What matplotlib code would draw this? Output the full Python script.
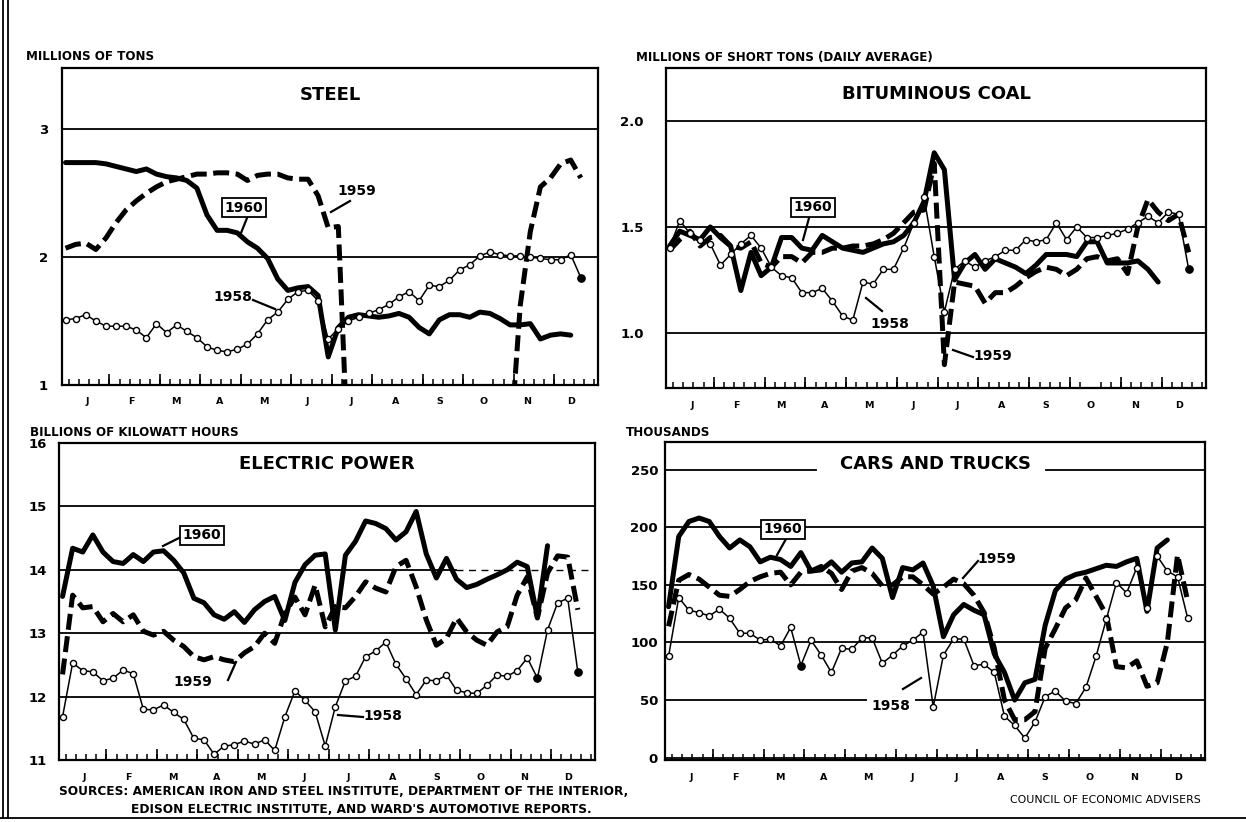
import matplotlib
matplotlib.use("Agg")
import matplotlib.pyplot as plt
from matplotlib.lines import Line2D
import numpy as np

W, H = 1246, 822

months = ["J", "F", "M", "A", "M", "J", "J", "A", "S", "O", "N", "D"]

# weekly values (week 0 = first week of January)
steel_1958 = [1.51, 1.52, 1.55, 1.50, 1.46, 1.46, 1.46, 1.43, 1.37, 1.48, 1.41, 1.47, 1.42,
              1.37, 1.30, 1.27, 1.26, 1.28, 1.32, 1.40, 1.51, 1.57, 1.67, 1.73, 1.74, 1.66,
              1.36, 1.44, 1.50, 1.53, 1.56, 1.59, 1.63, 1.69, 1.73, 1.66, 1.78, 1.77, 1.82,
              1.90, 1.94, 2.01, 2.04, 2.02, 2.01, 2.01, 2.00, 1.99, 1.98, 1.98, 2.02, 1.84]
steel_1959 = [2.07, 2.10, 2.11, 2.06, 2.15, 2.27, 2.37, 2.44, 2.50, 2.55, 2.59, 2.61, 2.63,
              2.65, 2.65, 2.66, 2.66, 2.65, 2.60, 2.64, 2.65, 2.65, 2.62, 2.61, 2.61, 2.48,
              2.23, 2.24, 0.35, 0.35, 0.35, 0.35, 0.35, 0.35, 0.35, 0.35, 0.35, 0.35, 0.35,
              0.35, 0.35, 0.35, 0.35, 0.35, 0.50, 1.62, 2.20, 2.55, 2.62, 2.73, 2.76, 2.62]
steel_1960 = [2.74, 2.74, 2.74, 2.74, 2.73, 2.71, 2.69, 2.67, 2.69, 2.65, 2.63, 2.62, 2.60,
              2.54, 2.33, 2.21, 2.21, 2.19, 2.12, 2.07, 1.99, 1.83, 1.74, 1.76, 1.77, 1.70,
              1.22, 1.45, 1.53, 1.55, 1.54, 1.53, 1.54, 1.56, 1.53, 1.45, 1.40, 1.51, 1.55,
              1.55, 1.53, 1.57, 1.56, 1.52, 1.47, 1.47, 1.48, 1.36, 1.39, 1.40, 1.39]

coal_1958 = [1.40, 1.53, 1.47, 1.44, 1.42, 1.32, 1.37, 1.42, 1.46, 1.40, 1.31, 1.27, 1.26,
             1.19, 1.19, 1.21, 1.15, 1.08, 1.06, 1.24, 1.23, 1.30, 1.30, 1.40, 1.52, 1.64,
             1.36, 1.10, 1.30, 1.34, 1.31, 1.34, 1.36, 1.39, 1.39, 1.44, 1.43, 1.44, 1.52,
             1.44, 1.50, 1.45, 1.45, 1.46, 1.47, 1.49, 1.52, 1.55, 1.52, 1.57, 1.56, 1.30]
coal_1959 = [1.39, 1.44, 1.48, 1.41, 1.45, 1.46, 1.41, 1.40, 1.43, 1.33, 1.31, 1.36, 1.36,
             1.33, 1.38, 1.38, 1.40, 1.40, 1.41, 1.41, 1.42, 1.44, 1.47, 1.52, 1.57, 1.58,
             1.80, 0.85, 1.24, 1.23, 1.22, 1.14, 1.19, 1.19, 1.22, 1.26, 1.29, 1.31, 1.30,
             1.27, 1.30, 1.35, 1.36, 1.34, 1.35, 1.28, 1.50, 1.63, 1.57, 1.53, 1.56, 1.38]
coal_1960 = [1.41, 1.48, 1.46, 1.44, 1.50, 1.45, 1.41, 1.20, 1.38, 1.27, 1.31, 1.45, 1.45,
             1.40, 1.39, 1.46, 1.43, 1.40, 1.39, 1.38, 1.40, 1.42, 1.43, 1.46, 1.52, 1.62,
             1.85, 1.77, 1.25, 1.33, 1.37, 1.30, 1.35, 1.33, 1.31, 1.28, 1.32, 1.37, 1.37,
             1.37, 1.36, 1.43, 1.43, 1.33, 1.33, 1.33, 1.34, 1.30, 1.24]

power_1958 = [11.68, 12.53, 12.41, 12.39, 12.25, 12.29, 12.42, 12.36, 11.80, 11.79, 11.87,
              11.75, 11.64, 11.34, 11.32, 11.09, 11.22, 11.24, 11.30, 11.25, 11.32, 11.15,
              11.68, 12.09, 11.94, 11.76, 11.22, 11.84, 12.25, 12.32, 12.63, 12.72, 12.86,
              12.51, 12.28, 12.03, 12.26, 12.25, 12.34, 12.10, 12.06, 12.05, 12.18, 12.34,
              12.32, 12.41, 12.61, 12.29, 13.05, 13.48, 13.55, 12.39]
power_1959 = [12.35, 13.60, 13.40, 13.42, 13.18, 13.31, 13.18, 13.29, 13.03, 12.97, 13.03,
              12.89, 12.79, 12.63, 12.58, 12.63, 12.58, 12.55, 12.69, 12.79, 13.00, 12.84,
              13.31, 13.57, 13.29, 13.76, 13.10, 13.42, 13.40, 13.58, 13.81, 13.71, 13.65,
              14.05, 14.15, 13.73, 13.21, 12.81, 12.92, 13.24, 13.02, 12.89, 12.81, 13.02,
              13.10, 13.60, 13.89, 13.24, 13.95, 14.22, 14.20, 13.37]
power_1960 = [13.58, 14.34, 14.28, 14.55, 14.28, 14.13, 14.10, 14.24, 14.13, 14.28, 14.30,
              14.15, 13.95, 13.55, 13.48, 13.29, 13.22, 13.34, 13.17, 13.37, 13.50, 13.58,
              13.20, 13.80, 14.08, 14.23, 14.25, 13.05, 14.23, 14.45, 14.77, 14.73, 14.65,
              14.47, 14.60, 14.92, 14.25, 13.87, 14.18, 13.85, 13.72, 13.77, 13.85, 13.92,
              14.00, 14.12, 14.05, 13.25, 14.38]

cars_1958 = [88, 139, 128, 126, 123, 129, 121, 108, 108, 102, 103, 97, 113, 80, 102, 89, 74,
             95, 94, 104, 104, 82, 89, 97, 102, 109, 44, 89, 103, 103, 80, 81, 74, 36, 28, 17,
             31, 53, 58, 49, 47, 61, 88, 120, 152, 143, 165, 130, 175, 162, 157, 121]
cars_1959 = [114, 154, 159, 155, 148, 141, 140, 146, 153, 157, 160, 161, 150, 161, 162, 166,
             160, 146, 162, 165, 160, 149, 150, 157, 157, 150, 142, 148, 155, 151, 141, 126,
             95, 50, 33, 33, 40, 95, 112, 130, 137, 156, 140, 124, 79, 78, 84, 62, 65, 100,
             176, 136]
cars_1960 = [131, 192, 205, 208, 205, 192, 182, 189, 183, 170, 174, 172, 166, 178, 162, 163,
             170, 161, 169, 170, 182, 173, 139, 165, 163, 169, 149, 105, 124, 133, 128, 124,
             90, 74, 50, 65, 68, 115, 145, 155, 159, 161, 164, 167, 166, 170, 173, 127, 182,
             189]

steel_ticks = [1, 2, 3]
coal_ticks = [1.0, 1.5, 2.0]
power_ticks = [11, 12, 13, 14, 15, 16]
cars_ticks = [0, 50, 100, 150, 200, 250]

FONT = "DejaVu Sans"
plt.rcParams["font.family"] = FONT

fig = plt.figure(figsize=(W / 100, H / 100), dpi=100)
fig.patch.set_facecolor("white")


def rect(left, top, right, bottom):
    return [left / W, 1 - bottom / H, (right - left) / W, (bottom - top) / H]


def fx(x):
    return x / W


def fy(y):
    return 1 - y / H


def panel(box, y58, y59, y60, ylim, ticks, fmt, title, title_y, label_pad,
          filled=(), skip_grid=()):
    ax = fig.add_axes(rect(*box))
    ax.set_xlim(-0.35, 52.7)
    ax.set_ylim(*ylim)
    for s in ax.spines.values():
        s.set_linewidth(1.6)
    for t in ticks:
        if t <= ylim[0] or t >= ylim[1] or t in skip_grid:
            continue
        ax.axhline(t, color="black", lw=1.3, zorder=1)

    ax.plot(np.arange(len(y59)), y59, color="black", lw=3.6,
            linestyle=(0, (3.2, 1.3)), zorder=3)
    ax.plot(np.arange(len(y60)), y60, color="black", lw=3.6,
            solid_joinstyle="round", solid_capstyle="round", zorder=4)
    ax.plot(np.arange(len(y58)), y58, color="black", lw=1.1, marker="o", ms=4.4,
            mfc="white", mec="black", mew=1.0, zorder=5)
    for i in filled:
        ax.plot([i], [y58[i]], "o", color="black", ms=5.2, zorder=6)

    ax.set_yticks(ticks)
    ax.set_yticklabels([fmt.format(t) for t in ticks], fontsize=9.5, fontweight="bold")
    ax.tick_params(axis="y", length=0, pad=label_pad)

    centers = [4.35 * m + 2.2 for m in range(12)]
    ax.set_xticks(centers)
    ax.set_xticklabels(months, fontsize=6.8, fontweight="bold")
    ax.tick_params(axis="x", which="major", length=0, pad=9)
    wk = np.arange(53) + 0.35
    ax.set_xticks(wk, minor=True)
    ax.tick_params(axis="x", which="minor", direction="in", length=4.5, width=1.1)
    long_ticks = [round(4.35 * m) + 0.35 for m in range(1, 12)]
    ax.vlines(long_ticks, 0, 0.035, transform=ax.get_xaxis_transform(),
              color="black", lw=1.2, zorder=2)

    ax.text(0.5, title_y, title, transform=ax.transAxes, ha="center", va="center",
            fontsize=13, fontweight="bold", zorder=6)
    return ax


ax1 = panel((62, 68, 598, 385), steel_1958, steel_1959, steel_1960, (1.0, 3.48),
            steel_ticks, "{:d}", "STEEL", 0.915, 10, filled=[51])
ax2 = panel((666, 68, 1206, 388), coal_1958, coal_1959, coal_1960, (0.74, 2.25),
            coal_ticks, "{:.1f}", "BITUMINOUS COAL", 0.92, 16, filled=[51])
ax3 = panel((59, 443, 595, 760), power_1958, power_1959, power_1960, (11, 16),
            power_ticks, "{:d}", "ELECTRIC POWER", 0.933, 8.5, filled=[47, 51],
            skip_grid=[14])
ax4 = panel((665, 442, 1205, 760), cars_1958, cars_1959, cars_1960, (-2, 274),
            cars_ticks, "{:d}", "CARS AND TRUCKS", 0.93, 5, filled=[13],
            skip_grid=[250])

# broken gridlines
ax3.axhline(14, xmin=0, xmax=0.74, color="black", lw=1.3, zorder=1)
ax3.axhline(14, xmin=0.74, xmax=1, color="black", lw=1.0, ls=(0, (5, 4)), zorder=1)
ax4.axhline(250, xmin=0, xmax=0.28, color="black", lw=1.3, zorder=1)
ax4.axhline(250, xmin=0.705, xmax=1, color="black", lw=1.3, zorder=1)

# unit captions
cap = dict(fontsize=8.6, fontweight="bold", ha="left", va="center")
fig.text(fx(26), fy(56), "MILLIONS OF TONS", **cap)
fig.text(fx(636), fy(57), "MILLIONS OF SHORT TONS (DAILY AVERAGE)", **cap)
fig.text(fx(30), fy(432), "BILLIONS OF KILOWATT HOURS", **cap)
fig.text(fx(626), fy(432), "THOUSANDS", **cap)


def tag(text, x, y, boxed=False, cover=False):
    kw = dict(ha="center", va="center", fontsize=10, fontweight="bold", zorder=10)
    if boxed:
        kw["bbox"] = dict(boxstyle="square,pad=0.18", fc="white", ec="black", lw=1.3)
    elif cover:
        kw["bbox"] = dict(boxstyle="square,pad=0.35", fc="white", ec="none")
    fig.text(fx(x), fy(y), text, **kw)


def pointer(x1, y1, x2, y2):
    fig.add_artist(Line2D([fx(x1), fx(x2)], [fy(y1), fy(y2)], color="black", lw=1.6,
                          transform=fig.transFigure, zorder=10))


# steel
tag("1960", 244, 208, boxed=True)
pointer(247, 218, 241, 233)
tag("1959", 357, 191)
pointer(350, 201, 331, 212)
tag("1958", 233, 297)
pointer(253, 300, 275, 309)
# coal
tag("1960", 813, 207, boxed=True)
pointer(809, 218, 803, 240)
tag("1958", 890, 324)
pointer(882, 311, 866, 298)
tag("1959", 993, 356)
pointer(973, 357, 953, 350)
# electric power
tag("1960", 202, 535, boxed=True)
pointer(181, 537, 163, 546)
tag("1959", 193, 682)
pointer(228, 680, 236, 662)
tag("1958", 383, 716)
pointer(363, 717, 338, 715)
# cars and trucks
tag("1960", 783, 529, boxed=True)
pointer(786, 539, 777, 555)
tag("1959", 997, 559)
pointer(978, 561, 963, 578)
tag("1958", 891, 706, cover=True)
pointer(921, 678, 903, 689)

# footer
fig.text(fx(59), fy(791),
         "SOURCES: AMERICAN IRON AND STEEL INSTITUTE, DEPARTMENT OF THE INTERIOR,",
         fontsize=8.7, fontweight="bold", ha="left", va="center")
fig.text(fx(361), fy(809), "EDISON ELECTRIC INSTITUTE, AND WARD'S AUTOMOTIVE REPORTS.",
         fontsize=8.7, fontweight="bold", ha="center", va="center")
fig.text(fx(1201), fy(800), "COUNCIL OF ECONOMIC ADVISERS", fontsize=7.9,
         ha="right", va="center")

# page border
for xb in (3, 8):
    fig.add_artist(Line2D([fx(xb), fx(xb)], [fy(0), fy(818)], color="black", lw=1.3,
                          transform=fig.transFigure))
fig.add_artist(Line2D([fx(0), fx(1246)], [fy(818), fy(818)], color="black", lw=1.3,
                      transform=fig.transFigure))

fig.savefig("out.png", dpi=100, facecolor="white")
